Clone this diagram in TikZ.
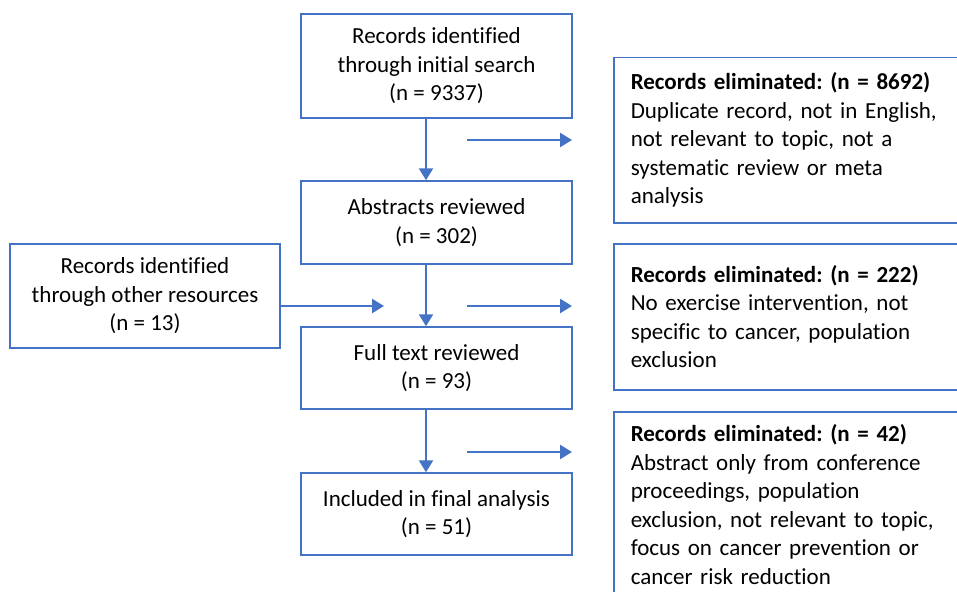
\documentclass[tikz,border=0pt]{standalone}
\usepackage{fontspec}
\setmainfont[Ligatures=NoCommon]{Carlito}
\usetikzlibrary{arrows.meta}
\definecolor{boxblue}{HTML}{4472C4}
\begin{document}
\frenchspacing
\begin{tikzpicture}[x=1pt,y=-1pt,
  every node/.style={font=\fontsize{23}{28.5}\selectfont, text=black},
  mainbox/.style={draw=boxblue, line width=1.5pt, align=center, minimum width=271pt, inner sep=0pt},
  elimbox/.style={draw=boxblue, line width=1.5pt, align=left, text width=340pt, inner xsep=17pt, inner ysep=13pt, anchor=north west},
  flow/.style={draw=boxblue, line width=2.5pt, -{Triangle[length=12pt,width=14pt]}}
]
\useasboundingbox (0,0) rectangle (957,591);
\clip (0,0) rectangle (957,591);

\node[mainbox, minimum height=104pt] (b1) at (436.5,66) {Records identified\\through initial search\\(n = 9337)};
\node[mainbox, minimum height=83pt] (b2) at (436.5,222.5) {Abstracts reviewed\\(n = 302)};
\node[mainbox, minimum height=82pt] (b3) at (436.5,368) {Full text reviewed\\(n = 93)};
\node[mainbox, minimum height=82pt] (b4) at (436.5,514) {Included in final analysis\\(n = 51)};
\node[mainbox, minimum width=270pt, minimum height=104pt] (lb) at (145,296) {Records identified\\through other resources\\(n = 13)};

\node[elimbox, minimum height=165pt] (r1) at (613,57) {\textbf{Records eliminated: (n = 8692)}\\Duplicate record, not in English,\\not relevant to topic, not a\\systematic review or meta\\analysis};
\node[elimbox, minimum height=146pt] (r2) at (613,243) {\textbf{Records eliminated: (n = 222)}\\No exercise intervention, not\\specific to cancer, population\\exclusion};
\node[elimbox] (r3) at (613,411) {\textbf{Records eliminated: (n = 42)}\\Abstract only from conference\\proceedings, population\\exclusion, not relevant to topic,\\focus on cancer prevention or\\cancer risk reduction};

\coordinate (vx) at (426,0);
\draw[flow] (b1.south -| vx) -- (b2.north -| vx);
\draw[flow] (b2.south -| vx) -- (b3.north -| vx);
\draw[flow] (b3.south -| vx) -- (b4.north -| vx);

\coordinate (h1s) at (467,140); \coordinate (h1e) at (572,140);
\coordinate (h2s) at (467,306); \coordinate (h2e) at (572,306);
\coordinate (h3s) at (467,452); \coordinate (h3e) at (572,452);
\coordinate (l1e) at (384,306);
\draw[flow] (h1s) -- (h1e);
\draw[flow] (h2s) -- (h2e);
\draw[flow] (h3s) -- (h3e);
\draw[flow] (lb.east |- l1e) -- (l1e);
\end{tikzpicture}
\end{document}
